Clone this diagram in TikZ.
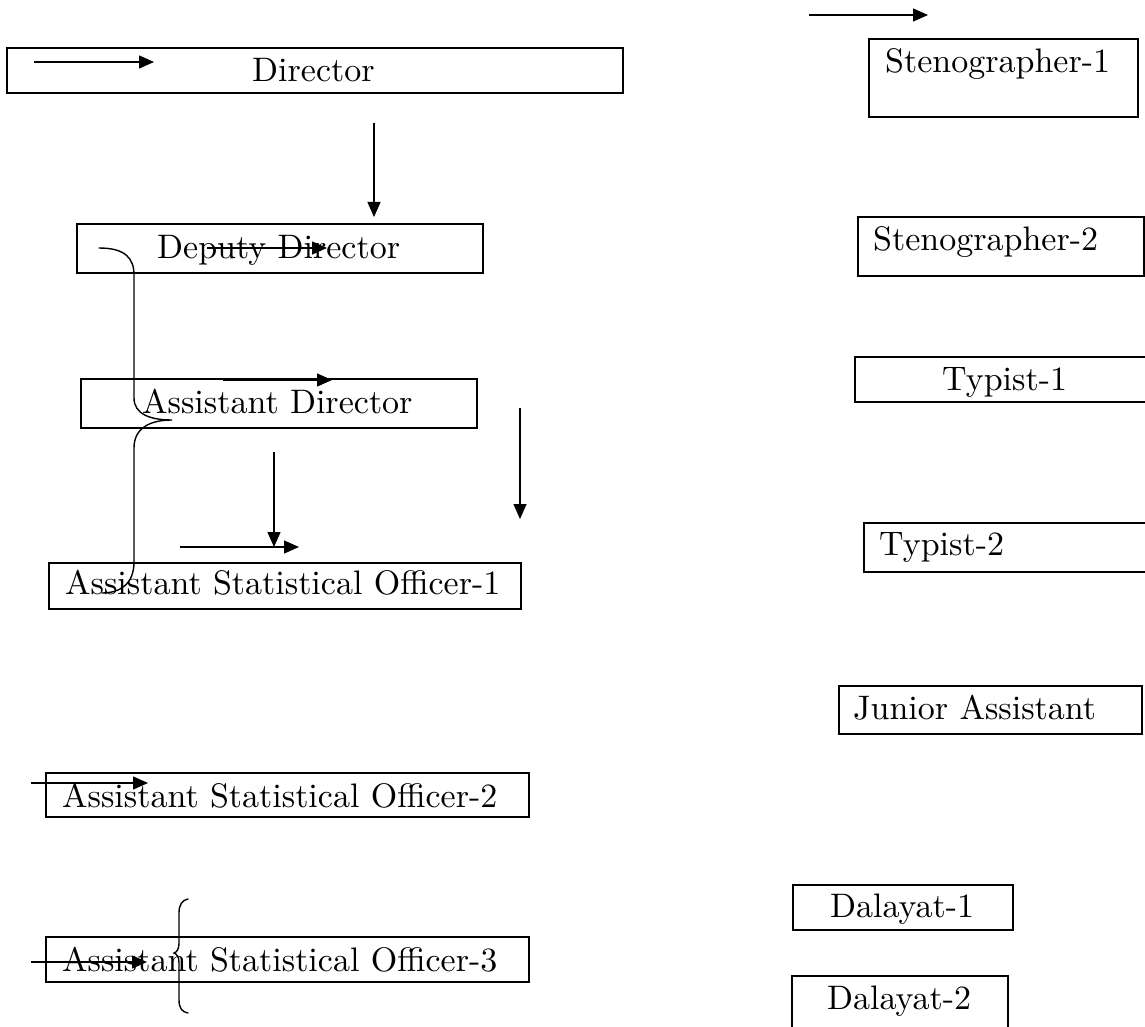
\documentclass[tikz,border=0pt]{standalone}
\usepackage{fontspec}
\usetikzlibrary{arrows.meta}
\newcommand\bigtxt[1]{\scalebox{3.4}{\fontsize{10}{12}\selectfont #1}}
\begin{document}
\begin{tikzpicture}[x=1pt,y=-1pt,
  box/.style={draw=black,line width=2pt,rectangle,inner sep=0pt,outer sep=0pt},
  lbl/.style={anchor=base west,inner sep=0pt},
  arr/.style={line width=1.4pt,-{Triangle[length=15pt,width=13pt]}},
  brace/.style={line width=1.4pt,line cap=round}]
\useasboundingbox (0,0) rectangle (1145,1027);
% boxes
\node[box,minimum width=616pt,minimum height=45pt] (dir) at (315,70.5) {};
\node[box,minimum width=406pt,minimum height=49pt] (dep) at (280,248.5) {};
\node[box,minimum width=396pt,minimum height=49pt] (ad) at (279,403.5) {};
\node[box,minimum width=472pt,minimum height=46pt] (aso1) at (285,586) {};
\node[box,minimum width=483pt,minimum height=44pt] (aso2) at (287.5,795) {};
\node[box,minimum width=483pt,minimum height=45pt] (aso3) at (287.5,959.5) {};
\node[box,minimum width=269pt,minimum height=78pt] (st1) at (1003.5,78) {};
\node[box,minimum width=286pt,minimum height=59pt] (st2) at (1001,246.5) {};
\node[box,minimum width=293pt,minimum height=45pt] (ty1) at (1001.5,379.5) {};
\node[box,minimum width=284pt,minimum height=49pt] (ty2) at (1006,547.5) {};
\node[box,minimum width=303pt,minimum height=48pt] (ja) at (990.5,710) {};
\node[box,minimum width=220pt,minimum height=45pt] (d1) at (903,907.5) {};
\node[box,minimum width=216pt,minimum height=59pt] (d2) at (900,1005.5) {};
% labels
\node[lbl] (dirt) at (252,82) {\bigtxt{Director}};
\node[lbl] (dept) at (157,258) {\bigtxt{Deputy Director}};
\node[lbl] (adt) at (142,413) {\bigtxt{Assistant Director}};
\node[lbl] (aso1t) at (65,594) {\bigtxt{Assistant Statistical Officer-1}};
\node[lbl] (aso2t) at (62,807) {\bigtxt{Assistant Statistical Officer-2}};
\node[lbl] (aso3t) at (62,971) {\bigtxt{Assistant Statistical Officer-3}};
\node[lbl] (st1t) at (885,73) {\bigtxt{Stenographer-1}};
\node[lbl] (st2t) at (873,250) {\bigtxt{Stenographer-2}};
\node[lbl] (ty1t) at (942,390) {\bigtxt{Typist-1}};
\node[lbl] (ty2t) at (879,555) {\bigtxt{Typist-2}};
\node[lbl] (jat) at (853,719) {\bigtxt{Junior Assistant}};
\node[lbl] (d1t) at (830,917) {\bigtxt{Dalayat-1}};
\node[lbl] (d2t) at (827,1009) {\bigtxt{Dalayat-2}};
% arrow end points
\coordinate (a1s) at (34,62);   \coordinate (a1e) at (154,62);
\coordinate (a2s) at (374,123); \coordinate (a2e) at (374,217);
\coordinate (a3s) at (207,248); \coordinate (a3e) at (327,248);
\coordinate (a4s) at (223,380); \coordinate (a4e) at (332,380);
\coordinate (a5s) at (274,452); \coordinate (a5e) at (274,547);
\coordinate (a6s) at (180,547); \coordinate (a6e) at (299,547);
\coordinate (a7s) at (520,408); \coordinate (a7e) at (520,519);
\coordinate (a8s) at (31,783);  \coordinate (a8e) at (148,783);
\coordinate (a9s) at (31,962);  \coordinate (a9e) at (147,962);
\coordinate (a10s) at (809,15); \coordinate (a10e) at (928,15);
\draw[arr] (a1s) -- (a1e);
\draw[arr] (a2s) -- (a2e);
\draw[arr] (a3s) -- (a3e);
\draw[arr] (a4s) -- (a4e);
\draw[arr] (a5s) -- (a5e);
\draw[arr] (a6s) -- (a6e);
\draw[arr] (a7s) -- (a7e);
\draw[arr] (a8s) -- (a8e);
\draw[arr] (a9s) -- (a9e);
\draw[arr] (a10s) -- (a10e);
% big right brace
\draw[brace] (99,248) .. controls (125,248) and (134,258) .. (134,275)
  -- (134,398) .. controls (134,414) and (150,420) .. (172,420)
  .. controls (150,420) and (134,428) .. (134,448)
  -- (134,562) .. controls (134,584) and (120,593) .. (102,593);
% small left brace
\draw[brace] (188,899) .. controls (182,900) and (179,905) .. (179,913)
  -- (179,943) .. controls (179,949) and (177,952) .. (174,953)
  .. controls (177,954) and (179,957) .. (179,963)
  -- (179,1000) .. controls (179,1008) and (182,1012) .. (188,1013);
\end{tikzpicture}
\end{document}
